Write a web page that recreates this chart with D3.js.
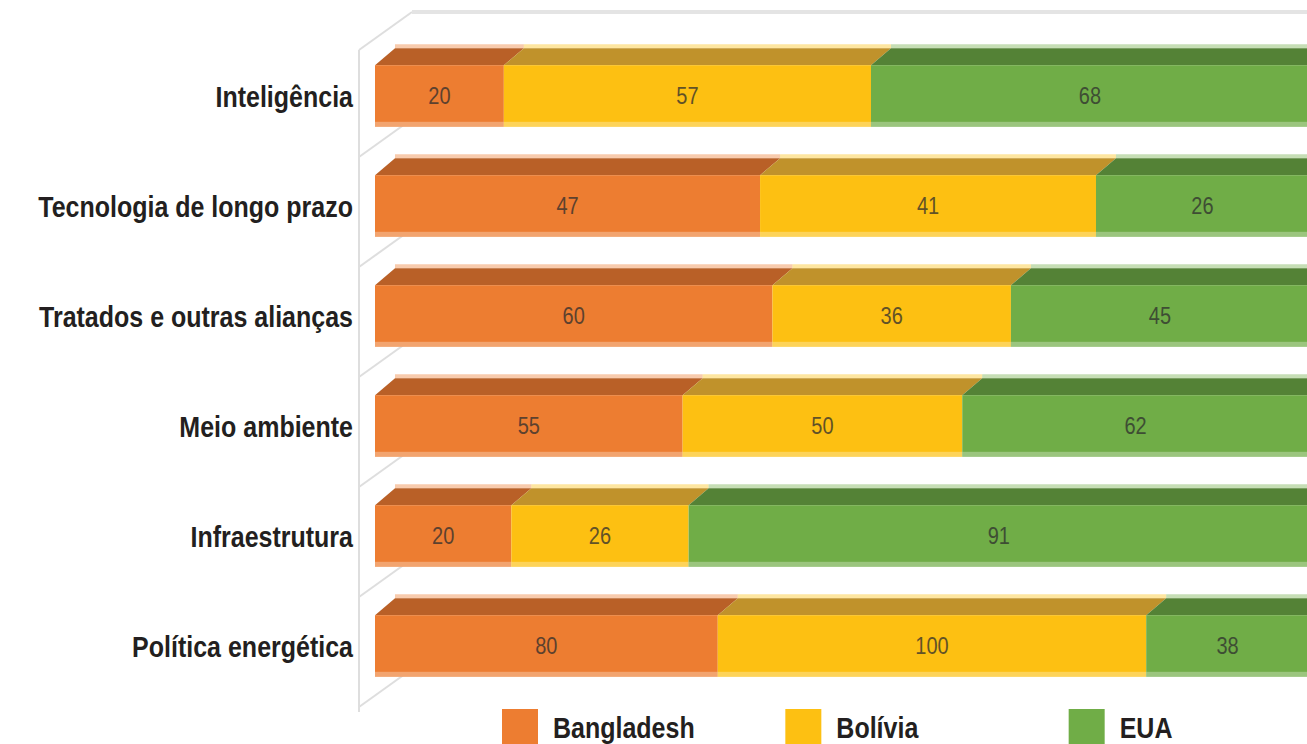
<!DOCTYPE html>
<html lang="pt">
<head>
<meta charset="UTF-8">
<title>Gráfico</title>
<script src="https://cdn.jsdelivr.net/npm/d3@7"></script>
<style>
  body, html {margin: 0; padding: 0; background: #fff; overflow: hidden;}
  text {font-family: "Liberation Sans", Arial, sans-serif;}
</style>
</head>
<body>
<div class="marco"></div>
<script>
// dados
const categories = ["Inteligência", "Tecnologia de longo prazo", "Tratados e outras alianças",
                    "Meio ambiente", "Infraestrutura", "Política energética"];
const series = ["Bangladesh", "Bolívia", "EUA"];
const bangladesh = [20, 47, 60, 55, 20, 80];
const bolivia = [57, 41, 36, 50, 26, 100];
const eua = [68, 26, 45, 62, 91, 38];

const cores = ["#ed7d31", "#fdc012", "#70ad47"];
const coresTopo = ["#b96027", "#c0922b", "#548236"];

const width = 1307, height = 744;
const dx = 20, dy = 17;   // profundidade das barras
const stretch = 1.2;      // texto um pouco esticado na vertical

const rows = categories.map((c, i) => ({
  cat: c, Bangladesh: bangladesh[i], "Bolívia": bolivia[i], EUA: eua[i]
}));

const stack = d3.stack().keys(series).offset(d3.stackOffsetExpand);
const layers = stack(rows);

const x = d3.scaleLinear().domain([0, 1]).range([375, 1309]);
const y = d3.scaleBand().domain(categories).range([41, 701])
  .paddingInner(0.44).paddingOuter(0.22);

const svg = d3.select(".marco").append("svg")
  .attr("width", width).attr("height", height);

// parede 3D
const wall = svg.append("g").attr("fill", "none").attr("stroke", "#dedede").attr("stroke-width", 2);
wall.append("line").attr("x1", 359).attr("y1", 50).attr("x2", 359).attr("y2", 712);
wall.append("line").attr("x1", 359).attr("y1", 50).attr("x2", 412).attr("y2", 12);
wall.append("line").attr("x1", 412).attr("y1", 12).attr("x2", width).attr("y2", 12)
  .attr("stroke", "#e4e4e4").attr("stroke-width", 4);
const limites = categories.map(c => y(c) + y.bandwidth() + (y.step() - y.bandwidth()) / 2);
wall.selectAll(".grade").data(limites).enter().append("line")
  .attr("x1", 359).attr("y1", d => d + 6)
  .attr("x2", 412).attr("y2", d => d - 32);

// barras
layers.forEach((layer, si) => {
  const g = svg.append("g");
  layer.forEach((d, i) => {
    const x0 = x(d[0]), x1 = x(d[1]), yT = y(categories[i]), h = y.bandwidth();
    // faixa clara atrás do topo
    g.append("polygon")
      .attr("points", [[x0 + dx, yT - dy], [x0 + dx, yT - dy - 4], [x1 + dx, yT - dy - 4], [x1 + dx, yT - dy]].join(" "))
      .attr("fill", cores[si]).attr("opacity", 0.4);
    // topo
    g.append("polygon")
      .attr("points", [[x0, yT], [x0 + dx, yT - dy], [x1 + dx, yT - dy], [x1, yT]].join(" "))
      .attr("fill", coresTopo[si]);
    // frente
    g.append("rect")
      .attr("x", x0).attr("y", yT).attr("width", x1 - x0).attr("height", h)
      .attr("fill", cores[si]);
    g.append("rect")
      .attr("x", x0).attr("y", yT + h - 5).attr("width", x1 - x0).attr("height", 5)
      .attr("fill", "#fff").attr("opacity", 0.3);
  });
});

// rótulos de valor
layers.forEach((layer, si) => {
  svg.append("g").selectAll("text").data(layer).enter().append("text")
    .attr("transform", (d, i) => `translate(${(x(d[0]) + x(d[1])) / 2},${y(categories[i]) + y.bandwidth() / 2 + 8}) scale(1,${stretch})`)
    .attr("text-anchor", "middle")
    .attr("font-size", 20)
    .attr("fill", "#2e2e2e").attr("opacity", 0.75)
    .text(d => d.data[series[si]]);
});

// categorias
svg.append("g").selectAll("text").data(categories).enter().append("text")
  .attr("transform", d => `translate(353,${y(d) + y.bandwidth() / 2 + 11}) scale(1,${stretch})`)
  .attr("text-anchor", "end")
  .attr("font-size", 25).attr("font-weight", "bold")
  .attr("fill", "#231f20")
  .text(d => d);

// legenda
const lx = d3.scaleBand().domain(series).range([502, 1352]);
const leg = svg.append("g").selectAll("g").data(series).enter().append("g")
  .attr("transform", d => `translate(${lx(d)},709)`);
leg.append("rect").attr("width", 36).attr("height", 36)
  .attr("fill", (d, i) => cores[i]);
leg.append("text")
  .attr("transform", `translate(51,29) scale(1,${stretch})`)
  .attr("font-size", 25).attr("font-weight", "bold")
  .attr("fill", "#231f20")
  .text(d => d);
</script>
</body>
</html>
